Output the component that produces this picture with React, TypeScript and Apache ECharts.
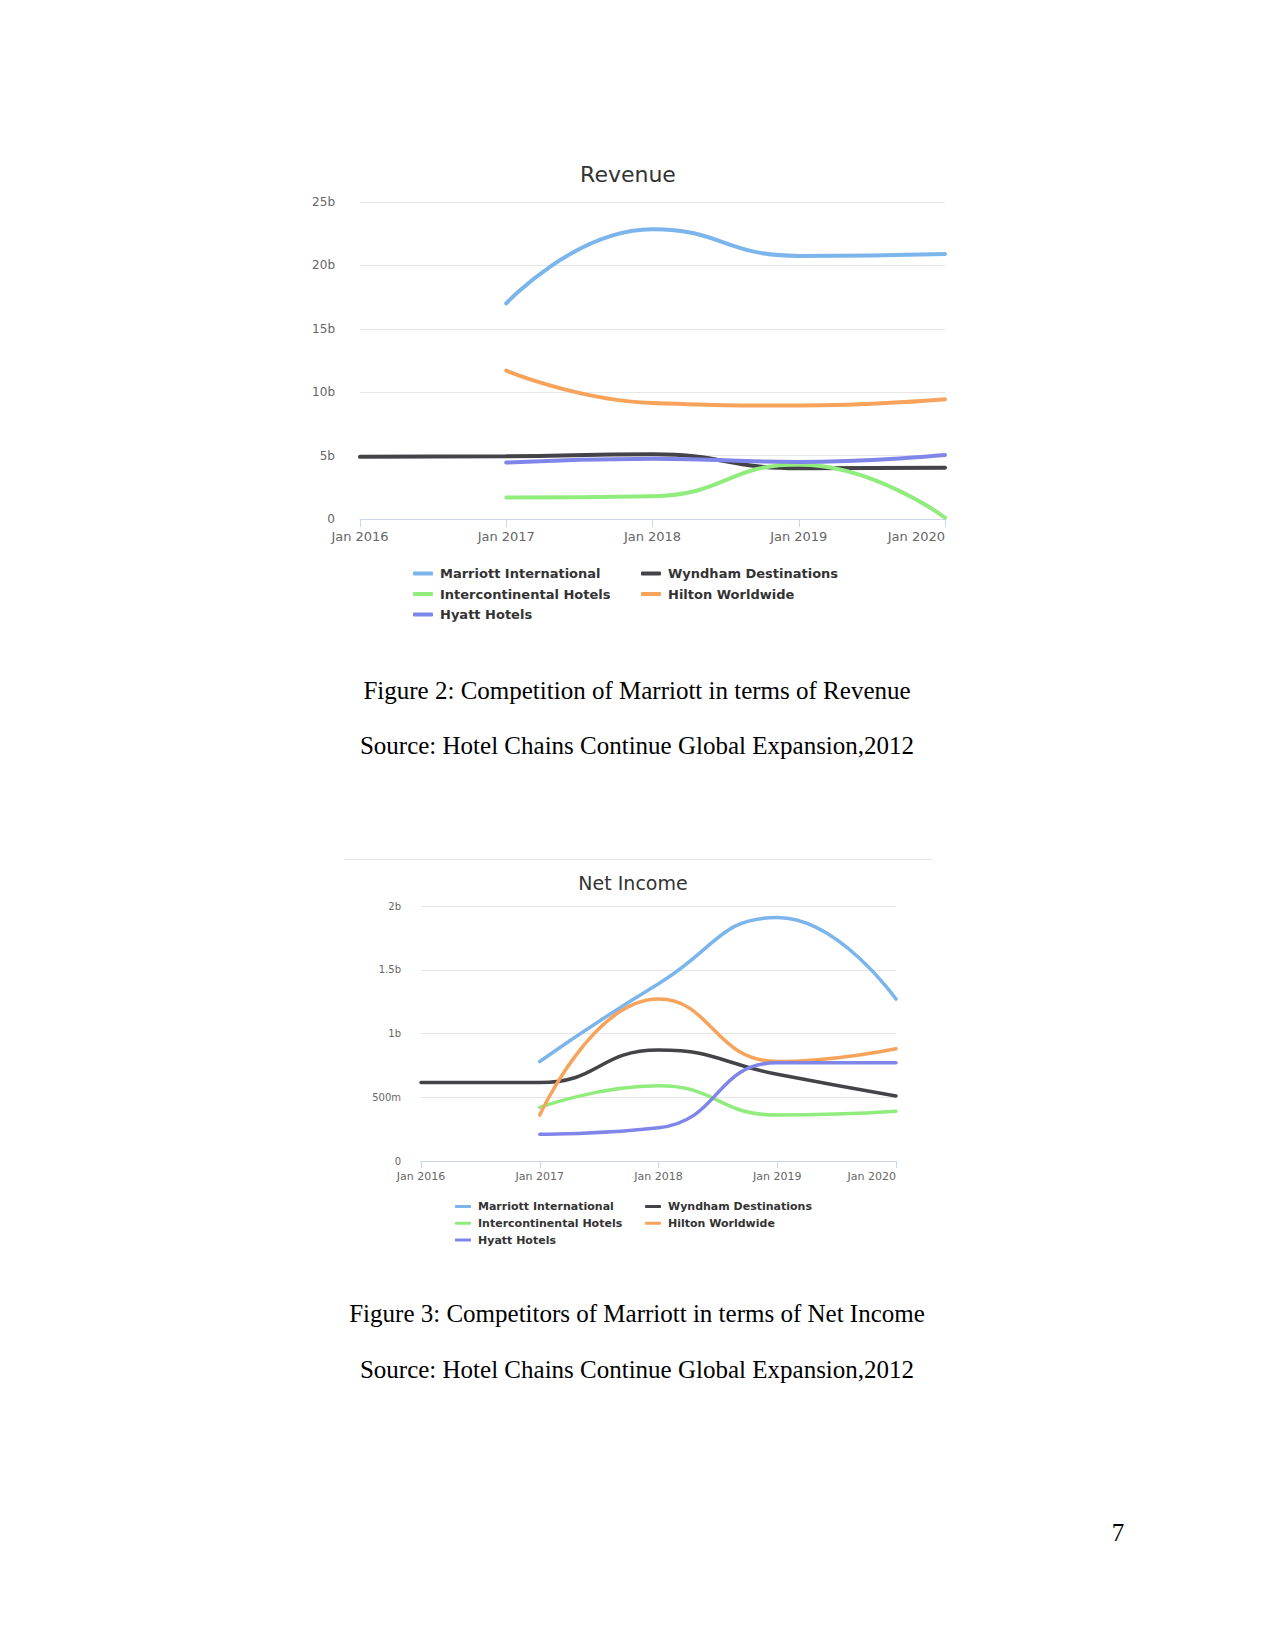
import React, { useEffect, useRef } from "react";
import * as echarts from "echarts";

// ---------- data ----------
const YEARS = [2016, 2017, 2018, 2019, 2020];
const SERIES_NAMES = [
  "Marriott International",
  "Wyndham Destinations",
  "Intercontinental Hotels",
  "Hilton Worldwide",
  "Hyatt Hotels",
];
const SERIES_COLORS = ["#7cb5ec", "#434348", "#90ed7d", "#f7a35c", "#8085e9"];

// Revenue, in billions
const REVENUE_MARRIOTT = [null, 17.0, 22.85, 20.75, 20.9];
const REVENUE_WYNDHAM = [4.9, 4.95, 5.1, 4.0, 4.05];
const REVENUE_INTERCONTINENTAL = [null, 1.7, 1.8, 4.3, 0.1];
const REVENUE_HILTON = [null, 11.7, 9.15, 8.95, 9.45];
const REVENUE_HYATT = [null, 4.45, 4.75, 4.5, 5.05];

// Net income, in billions
const NET_MARRIOTT = [null, 0.78, 1.39, 1.91, 1.27];
const NET_WYNDHAM = [0.615, 0.615, 0.87, 0.68, 0.51];
const NET_INTERCONTINENTAL = [null, 0.42, 0.59, 0.36, 0.39];
const NET_HILTON = [null, 0.36, 1.27, 0.78, 0.88];
const NET_HYATT = [null, 0.21, 0.26, 0.77, 0.77];

const REVENUE_Y_LABELS = ["0", "5b", "10b", "15b", "20b", "25b"];
const NET_Y_LABELS = ["0", "500m", "1b", "1.5b", "2b"];
const X_LABEL_PREFIX = "Jan ";

const CAPTION_REVENUE = "Figure 2: Competition of Marriott in terms of Revenue";
const CAPTION_NET = "Figure 3: Competitors of Marriott in terms of Net Income";
const SOURCE_TEXT = "Source: Hotel Chains Continue Global Expansion,2012";
const PAGE_NUMBER = "7";

const REVENUE_VALUES = [
  REVENUE_MARRIOTT,
  REVENUE_WYNDHAM,
  REVENUE_INTERCONTINENTAL,
  REVENUE_HILTON,
  REVENUE_HYATT,
];
const NET_VALUES = [NET_MARRIOTT, NET_WYNDHAM, NET_INTERCONTINENTAL, NET_HILTON, NET_HYATT];

const toPairs = (vals: (number | null)[]) =>
  YEARS.map((y, i) => (vals[i] == null ? null : [y, vals[i]])).filter((p) => p !== null);

const SANS = "DejaVu Sans";
const SERIF = "Liberation Serif";

export default function App() {
  const ref = useRef<HTMLDivElement>(null);

  useEffect(() => {
    if (!ref.current) return;
    const chart = echarts.init(ref.current, undefined, { renderer: "svg" });

    const xAxisBase = (fontSize: number, margin: number, tickLen: number) => ({
      type: "value",
      min: 2016,
      max: 2020,
      interval: 1,
      axisLine: { show: true, lineStyle: { color: "#ccd6eb", width: 1 } },
      axisTick: { show: true, length: tickLen, lineStyle: { color: "#ccd6eb" } },
      splitLine: { show: false },
      axisLabel: {
        fontFamily: SANS,
        fontSize,
        color: "#666666",
        margin,
        alignMaxLabel: "right",
        formatter: (v: number) => X_LABEL_PREFIX + v,
      },
    });

    const lineSeries = (gridIdx: number, values: (number | null)[][], width: number) =>
      values.map((vals, i) => ({
        type: "line",
        name: SERIES_NAMES[i],
        xAxisIndex: gridIdx,
        yAxisIndex: gridIdx,
        data: toPairs(vals),
        smooth: 0.5,
        showSymbol: false,
        symbol: "none",
        lineStyle: { width, color: SERIES_COLORS[i], cap: "round" },
        itemStyle: { color: SERIES_COLORS[i] },
        emphasis: { disabled: true },
      }));

    const legendBase = (
      data: string[],
      left: number,
      top: number,
      fontSize: number,
      iconW: number,
      iconH: number,
      gap: number
    ) => ({
      data,
      orient: "vertical",
      left,
      top,
      padding: 0,
      itemGap: gap,
      itemWidth: iconW,
      itemHeight: iconH,
      icon: "roundRect",
      selectedMode: false,
      textStyle: {
        fontFamily: SANS,
        fontWeight: "bold",
        fontSize,
        color: "#333333",
        padding: [0, 0, 0, 2],
      },
    });

    const textEl = (
      text: string,
      x: number,
      y: number,
      fontSize: number,
      family: string,
      fill: string,
      align = "center"
    ) => ({
      type: "text",
      x,
      y,
      style: {
        text,
        fontSize,
        fontFamily: family,
        fill,
        align,
        verticalAlign: "middle",
        textAlign: align,
        textVerticalAlign: "middle",
      },
    });

    chart.setOption({
      animation: false,
      backgroundColor: "#ffffff",
      grid: [
        { left: 360, top: 202, width: 585, height: 317, containLabel: false },
        { left: 421, top: 906, width: 475, height: 255, containLabel: false },
      ],
      xAxis: [
        { ...xAxisBase(13, 11, 8), gridIndex: 0 },
        { ...xAxisBase(11, 10, 7), gridIndex: 1 },
      ],
      yAxis: [
        {
          type: "value",
          gridIndex: 0,
          min: 0,
          max: 25,
          interval: 5,
          axisLine: { show: false },
          axisTick: { show: false },
          splitLine: { show: true, lineStyle: { color: "#e6e6e6", width: 1 } },
          axisLabel: {
            fontFamily: SANS,
            fontSize: 12,
            color: "#666666",
            margin: 25,
            formatter: (v: number) => REVENUE_Y_LABELS[Math.round(v / 5)] ?? "",
          },
        },
        {
          type: "value",
          gridIndex: 1,
          min: 0,
          max: 2,
          interval: 0.5,
          axisLine: { show: false },
          axisTick: { show: false },
          splitLine: { show: true, lineStyle: { color: "#e6e6e6", width: 1 } },
          axisLabel: {
            fontFamily: SANS,
            fontSize: 10,
            color: "#666666",
            margin: 20,
            formatter: (v: number) => NET_Y_LABELS[Math.round(v / 0.5)] ?? "",
          },
        },
      ],
      legend: [
        legendBase([SERIES_NAMES[0], SERIES_NAMES[2], SERIES_NAMES[4]], 413, 567, 13, 20, 4, 7.5),
        legendBase([SERIES_NAMES[1], SERIES_NAMES[3]], 641, 567, 13, 20, 4, 7.5),
        legendBase([SERIES_NAMES[0], SERIES_NAMES[2], SERIES_NAMES[4]], 455, 1201, 11, 16, 3, 5.8),
        legendBase([SERIES_NAMES[1], SERIES_NAMES[3]], 645, 1201, 11, 16, 3, 5.8),
      ],
      graphic: {
        elements: [
          textEl("Revenue", 628, 174, 22, SANS, "#333333"),
          textEl("Net Income", 633, 883, 19, SANS, "#333333"),
          {
            type: "line",
            shape: { x1: 344, y1: 859.5, x2: 932, y2: 859.5 },
            style: { stroke: "#e6e6e6", lineWidth: 1 },
          },
          textEl(CAPTION_REVENUE, 637, 690, 25, SERIF, "#000000"),
          textEl(SOURCE_TEXT, 637, 745, 25, SERIF, "#000000"),
          textEl(CAPTION_NET, 637, 1313, 25, SERIF, "#000000"),
          textEl(SOURCE_TEXT, 637, 1369, 25, SERIF, "#000000"),
          textEl(PAGE_NUMBER, 1118, 1532, 25, SERIF, "#000000"),
        ],
      },
      series: [...lineSeries(0, REVENUE_VALUES, 4), ...lineSeries(1, NET_VALUES, 3.5)],
    } as any);

    return () => chart.dispose();
  }, []);

  return (
    <div
      ref={ref}
      style={{ position: "absolute", left: 0, top: 0, width: 1275, height: 1650, background: "#fff" }}
    />
  );
}
